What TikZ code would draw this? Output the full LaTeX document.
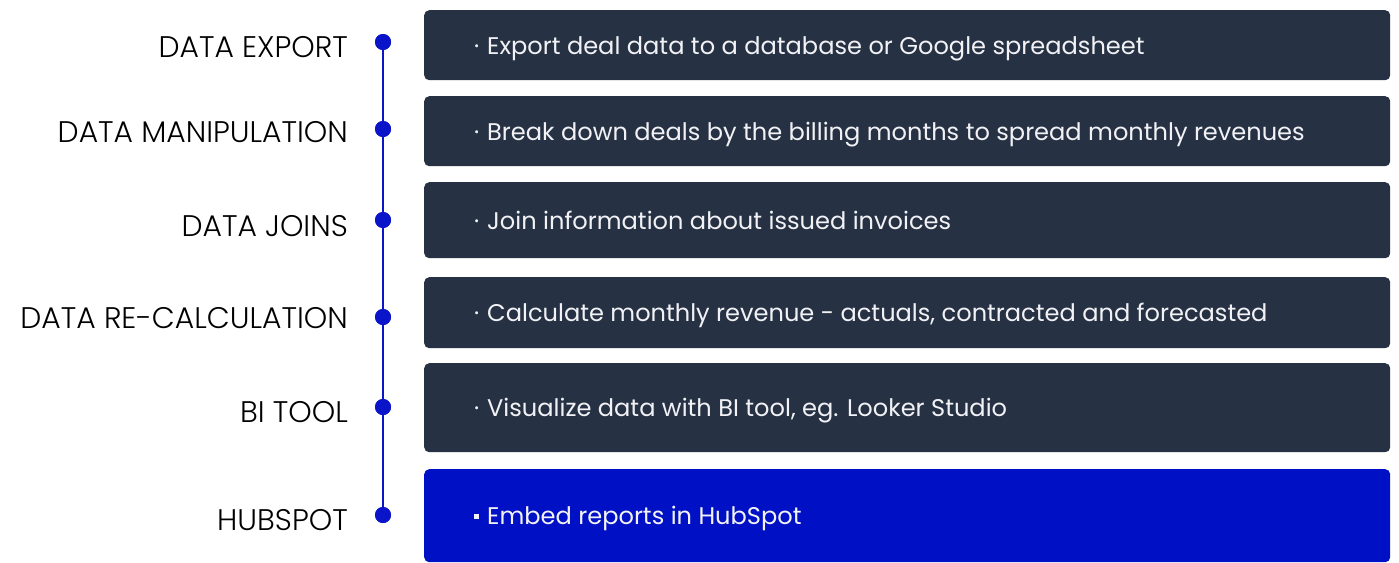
\documentclass[tikz,border=0pt]{standalone}
\usepackage{fontspec}
\setmainfont{Poppins}
\newfontfamily\lblfont{Poppins Light}
\definecolor{boxdark}{RGB}{38,50,67}
\definecolor{boxblue}{RGB}{0,16,196}
\definecolor{lineblue}{RGB}{10,20,200}
\definecolor{txtw}{RGB}{242,242,246}
\newcommand{\dbul}{\makebox[13pt][l]{·}}
\newcommand{\sbul}{\makebox[13pt][l]{\raisebox{5.5pt}{\rule{4.5pt}{4.5pt}}}}
\begin{document}
\begin{tikzpicture}[x=1pt,y=-1pt,
  stagebox/.style={draw=none,fill=boxdark,rounded corners=5pt,minimum width=966pt,inner sep=0pt,anchor=north west},
  lbl/.style={anchor=base east,font=\lblfont\fontsize{29.8}{32}\selectfont,text=black,inner sep=0pt},
  txt/.style={anchor=base west,font=\fontsize{24.1}{28}\selectfont,text=txtw,inner sep=0pt},
  dot/.style={circle,fill=lineblue,minimum size=16pt,inner sep=0pt}]
\useasboundingbox (0,0) rectangle (1399,562);
% boxes
\node[stagebox,minimum height=70pt] (b1) at (424,10) {};
\node[stagebox,minimum height=70pt] (b2) at (424,96) {};
\node[stagebox,minimum height=76pt] (b3) at (424,182) {};
\node[stagebox,minimum height=71pt] (b4) at (424,277) {};
\node[stagebox,minimum height=89pt] (b5) at (424,363) {};
\node[stagebox,fill=boxblue,minimum height=93pt] (b6) at (424,469) {};
% texts
\node[txt] (t1) at (474,54) {\dbul Export deal data to a database or Google spreadsheet};
\node[txt] (t2) at (474,140) {\dbul Break down deals by the billing months to spread monthly revenues};
\node[txt] (t3) at (474,229) {\dbul Join information about issued invoices};
\node[txt] (t4) at (474,321) {\dbul Calculate monthly revenue - actuals, contracted and forecasted};
\node[txt] (t5) at (474,416) {\dbul Visualize data with BI tool, eg. Looker Studio};
\node[txt] (t6) at (474,524) {\sbul Embed reports in HubSpot};
% dots
\node[dot] (d1) at (383,42) {};
\node[dot] (d2) at (383,129) {};
\node[dot] (d3) at (383,220) {};
\node[dot] (d4) at (383,317) {};
\node[dot] (d5) at (383,407) {};
\node[dot] (d6) at (383,515) {};
\draw[lineblue,line width=2.2pt] (d1.center) -- (d6.center);
\foreach \i in {1,...,6} {\node[dot] at (d\i) {};}
% labels
\node[lbl] (l1) at (348,57) {DATA EXPORT};
\node[lbl] (l2) at (348,142) {DATA MANIPULATION};
\node[lbl] (l3) at (348,236) {DATA JOINS};
\node[lbl] (l4) at (348,328) {DATA RE-CALCULATION};
\node[lbl] (l5) at (348,422) {BI TOOL};
\node[lbl] (l6) at (348,530) {HUBSPOT};
\end{tikzpicture}
\end{document}
